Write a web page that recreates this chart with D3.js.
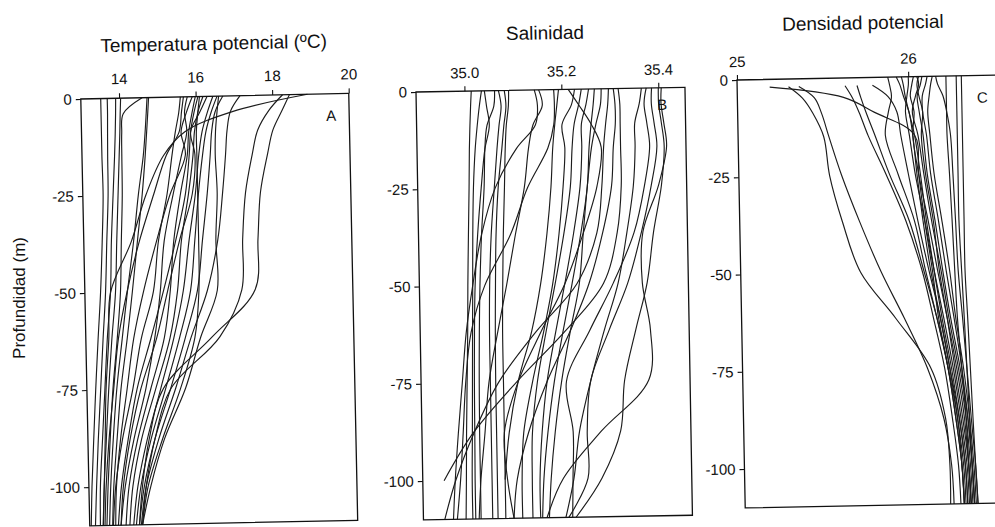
<!DOCTYPE html>
<html><head><meta charset="utf-8">
<script src="https://cdn.jsdelivr.net/npm/d3@7"></script>
<style>
html,body{margin:0;padding:0;background:#fff;}
svg{display:block;font-family:Arial,"Liberation Sans",sans-serif;}
</style></head><body>
<svg id="chart" width="995" height="527"></svg>
<script>
// Depth levels (m) at which each profile is sampled
const depthLevels = [0,-4,-9,-15,-25,-37,-50,-62,-75,-88,-100,-110];
const depthLevelsDensity = [0,-2,-5,-9,-15,-25,-37,-50,-62,-75,-88,-100,-110];
const depthTicks = [0,-25,-50,-75,-100];
const temperatureTicks = [14,16,18,20];
const salinityTicks = [35.0,35.2,35.4];
const densityTicks = [25,26];

// Potential temperature (ºC) per station
const temperatureProfiles = [
  [13.52,13.52,13.52,13.52,13.53,13.48,13.41,13.32,13.23,13.15,13.08,13.04],
  [13.69,13.69,13.68,13.67,13.66,13.60,13.54,13.45,13.36,13.27,13.20,13.15],
  [13.91,13.90,13.88,13.85,13.79,13.72,13.67,13.56,13.47,13.38,13.30,13.28],
  [14.04,14.02,14.00,13.97,13.92,13.86,13.80,13.68,13.57,13.48,13.40,13.36],
  [14.60,14.10,14.05,14.04,14.03,13.98,13.93,13.82,13.68,13.58,13.50,13.45],
  [14.73,14.70,14.66,14.60,14.45,14.30,14.11,13.95,13.78,13.66,13.57,13.52],
  [14.77,14.74,14.70,14.65,14.55,14.40,14.24,14.08,13.89,13.76,13.65,13.60],
  [18.92,16.97,15.70,15.13,14.65,14.24,13.67,13.60,13.50,13.45,13.40,13.35],
  [15.60,15.55,15.45,15.35,15.20,14.95,14.79,14.45,14.20,13.90,13.70,13.62],
  [15.68,15.62,15.55,15.20,14.85,14.45,14.10,13.85,13.70,13.55,13.45,13.40],
  [15.78,15.70,15.75,15.60,15.36,15.10,14.97,14.80,14.54,14.20,13.95,13.82],
  [15.91,15.75,15.60,15.70,15.28,14.90,14.53,14.25,14.05,13.85,13.72,13.68],
  [15.99,15.90,15.80,15.75,15.55,15.35,15.23,15.05,14.67,14.30,14.05,13.95],
  [16.06,15.95,15.85,15.80,15.68,15.40,15.05,14.70,14.31,14.05,13.85,13.75],
  [16.19,16.05,15.95,15.90,15.76,15.55,15.42,15.20,14.80,14.40,14.15,14.05],
  [16.30,16.10,15.85,15.95,15.86,15.50,15.16,14.85,14.41,14.10,13.90,13.82],
  [16.45,16.30,16.15,16.05,15.94,15.75,15.57,15.30,14.93,14.55,14.28,14.15],
  [16.56,16.40,16.25,16.15,16.02,15.90,15.76,15.45,15.06,14.65,14.36,14.22],
  [16.71,16.50,16.40,16.35,16.25,16.10,15.94,15.60,15.19,14.75,14.45,14.30],
  [16.10,16.05,16.00,16.00,16.00,16.00,15.98,15.85,15.45,14.95,14.55,14.38],
  [17.16,16.90,16.80,16.75,16.65,16.50,16.20,15.75,15.32,14.85,14.50,14.35],
  [16.60,16.55,16.50,16.48,16.51,16.45,16.46,16.00,15.58,15.00,14.62,14.38],
  [18.27,17.90,17.60,17.45,17.25,17.15,17.10,16.50,15.20,14.75,14.50,14.38],
  [18.45,18.25,18.00,17.85,17.64,17.55,17.45,16.30,15.00,14.60,14.40,14.30]
];

// Salinity per station (null below the deepest sample)
const salinityProfiles = [
  [35.014,35.012,35.010,35.008,35.006,35.003,35.000,34.998,34.995,34.992,34.990,34.988],
  [35.035,35.030,35.025,35.020,35.015,35.012,35.010,35.008,35.006,35.004,35.002,35.002],
  [35.041,35.045,35.050,35.040,35.031,35.022,35.015,35.012,35.010,35.009,35.008,35.008],
  [35.062,35.060,35.045,35.040,35.037,35.030,35.025,35.022,35.020,35.019,35.019,35.019],
  [35.070,35.075,35.070,35.065,35.058,35.050,35.045,35.043,35.043,35.043,35.043,35.043],
  [35.082,35.085,35.080,35.075,35.066,35.060,35.057,35.055,35.054,35.054,35.054,35.054],
  [35.091,35.090,35.085,35.082,35.079,35.075,35.072,35.070,35.070,35.070,35.070,35.070],
  [35.144,35.150,35.145,35.105,35.060,35.030,35.010,34.995,34.985,34.975,34.967,34.962],
  [35.153,35.160,35.140,35.130,35.120,35.100,35.080,35.060,35.040,35.030,35.020,35.015],
  [35.184,35.185,35.183,35.170,35.127,35.090,35.035,35.005,34.992,34.985,34.978,34.970],
  [35.194,35.190,35.185,35.180,35.175,35.165,35.150,35.130,35.100,35.080,35.070,null],
  [35.214,35.235,35.260,35.280,35.270,35.240,35.200,35.150,35.100,35.070,35.075,35.087],
  [35.227,35.220,35.200,35.205,35.200,35.190,35.175,35.155,35.130,35.110,35.105,35.105],
  [35.241,35.235,35.225,35.220,35.215,35.200,35.180,35.160,35.140,35.128,35.126,35.126],
  [35.256,35.250,35.240,35.240,35.235,35.220,35.200,35.180,35.160,35.148,35.142,35.142],
  [35.268,35.265,35.260,35.255,35.250,35.235,35.215,35.195,35.175,35.160,35.150,35.146],
  [35.297,35.295,35.290,35.285,35.280,35.268,35.225,35.140,35.060,35.007,34.968,34.944],
  [35.317,35.320,35.320,35.320,35.320,35.310,35.280,35.200,35.097,35.005,34.944,null],
  [35.282,35.280,35.270,35.260,35.250,35.240,35.230,35.210,35.190,35.175,35.165,35.160],
  [35.307,35.310,35.310,35.305,35.300,35.280,35.250,35.210,35.160,35.120,35.095,35.087],
  [35.365,35.360,35.350,35.350,35.345,35.330,35.310,35.280,35.250,35.225,35.212,35.194],
  [35.375,35.370,35.375,35.380,35.368,35.345,35.300,35.250,35.200,35.212,35.210,35.208],
  [35.386,35.385,35.390,35.395,35.382,35.360,35.330,35.290,35.250,35.241,35.241,35.200],
  [35.406,35.405,35.410,35.415,35.397,35.363,35.360,35.375,35.370,35.270,35.190,35.155],
  [35.400,35.400,35.405,35.410,35.403,35.385,35.370,35.345,35.320,35.310,35.270,35.215]
];

// Potential density per station (null where the cast starts below the surface)
const densityProfiles = [
  [null,25.19,25.62,25.80,26.03,26.05,26.08,26.12,26.15,26.20,26.24,26.27,26.28],
  [null,25.30,25.38,25.44,25.50,25.53,25.60,25.70,25.90,26.10,26.18,26.20,26.20],
  [null,25.36,25.45,25.49,25.53,25.60,25.70,25.82,25.95,26.08,26.17,26.21,26.22],
  [null,25.63,25.67,25.71,25.76,25.86,25.97,26.06,26.12,26.18,26.22,26.25,26.26],
  [null,25.70,25.72,25.75,25.80,25.88,25.99,26.07,26.14,26.20,26.24,26.27,26.28],
  [null,25.79,25.88,25.93,25.95,25.99,26.04,26.10,26.16,26.21,26.25,26.28,26.29],
  [25.88,25.89,25.90,25.88,25.86,25.93,26.02,26.08,26.14,26.20,26.25,26.27,26.28],
  [25.93,25.95,25.97,26.00,26.02,26.04,26.07,26.11,26.16,26.21,26.26,26.29,26.30],
  [25.96,25.97,25.98,26.00,26.03,26.06,26.09,26.13,26.17,26.22,26.26,26.29,26.30],
  [26.00,26.00,25.99,25.98,26.00,26.03,26.08,26.13,26.18,26.23,26.27,26.30,26.31],
  [26.03,26.02,26.01,26.03,26.02,26.05,26.10,26.15,26.20,26.25,26.29,26.31,26.32],
  [26.05,26.06,26.04,26.02,26.05,26.08,26.12,26.17,26.21,26.26,26.30,26.32,26.33],
  [26.06,26.05,26.06,26.08,26.07,26.09,26.13,26.16,26.20,26.24,26.28,26.31,26.32],
  [26.08,26.07,26.05,26.06,26.08,26.10,26.14,26.18,26.22,26.27,26.31,26.33,26.34],
  [26.11,26.10,26.08,26.08,26.10,26.12,26.16,26.20,26.24,26.28,26.31,26.33,26.34],
  [26.14,26.13,26.12,26.11,26.12,26.14,26.18,26.22,26.25,26.29,26.32,26.34,26.35],
  [26.16,26.17,26.20,26.22,26.24,26.25,26.26,26.27,26.29,26.31,26.33,26.35,26.36],
  [26.22,26.22,26.22,26.22,26.22,26.23,26.24,26.25,26.26,26.28,26.30,26.31,26.32],
  [26.28,26.28,26.28,26.28,26.28,26.28,26.28,26.29,26.30,26.31,26.32,26.33,26.34],
  [26.31,26.31,26.31,26.31,26.31,26.31,26.31,26.31,26.32,26.33,26.34,26.35,26.36]
];

const plainNumber = d => String(d);

const panels = [
  {letter:"A", title:"Temperatura potencial (ºC)", profiles:temperatureProfiles, depths:depthLevels,
   xDomain:[13,20], ticks:temperatureTicks, fmt:plainNumber,
   origin:[80.8,99], angle:-1.2, width:268, height:427, titlePos:[134,-53], letterPos:[250,22], xPad:9},
  {letter:"B", title:"Salinidad", profiles:salinityProfiles, depths:depthLevels,
   xDomain:[34.9,35.455], ticks:salinityTicks, fmt:d3.format(".1f"),
   origin:[416,92], angle:-1.0, width:269, height:428, titlePos:[130,-57], letterPos:[246,17], xPad:8},
  {letter:"C", title:"Densidad potencial", profiles:densityProfiles, depths:depthLevelsDensity,
   xDomain:[25,26.6], ticks:densityTicks, fmt:plainNumber,
   origin:[737,80], angle:-1.1, width:274, height:428, titlePos:[127,-55], letterPos:[245,22], xPad:8}
];

const svg = d3.select("#chart");
const ink = "#1c1c1c";

panels.forEach(p => {
  const g = svg.append("g")
    .attr("transform", `translate(${p.origin[0]},${p.origin[1]}) rotate(${p.angle})`);
  const x = d3.scaleLinear().domain(p.xDomain).range([0, p.width]);
  const y = d3.scaleLinear().domain([-110, 0]).range([p.height, 0]);

  const line = d3.line()
    .x(d => x(d[0]))
    .y(d => y(d[1]))
    .curve(d3.curveCatmullRom.alpha(0.5));

  g.append("g").selectAll("path")
    .data(p.profiles)
    .join("path")
    .attr("d", vals => line(vals.map((v, i) => [v, p.depths[i]]).filter(d => d[0] != null)))
    .attr("fill", "none")
    .attr("stroke", ink)
    .attr("stroke-width", 1.15);

  g.append("rect")
    .attr("x", 0).attr("y", 0)
    .attr("width", p.width).attr("height", p.height)
    .attr("fill", "none").attr("stroke", "#111").attr("stroke-width", 1.3);

  const xAxis = g.append("g")
    .call(d3.axisTop(x).tickValues(p.ticks).tickFormat(p.fmt)
      .tickSize(5).tickSizeOuter(0).tickPadding(p.xPad));
  const yAxis = g.append("g")
    .call(d3.axisLeft(y).tickValues(depthTicks).tickFormat(plainNumber)
      .tickSize(5).tickSizeOuter(0).tickPadding(4));
  [xAxis, yAxis].forEach(a => {
    a.select(".domain").remove();
    a.selectAll("line").attr("stroke", "#111").attr("stroke-width", 1.1);
    a.selectAll("text").attr("fill", "#111").style("font-size", "15px")
      .style("font-family", "Arial, 'Liberation Sans', sans-serif");
  });

  g.append("text")
    .attr("x", p.titlePos[0]).attr("y", p.titlePos[1])
    .attr("dy", "0.35em").attr("text-anchor", "middle")
    .attr("fill", "#111").style("font-size", "19px")
    .text(p.title);

  g.append("text")
    .attr("x", p.letterPos[0]).attr("y", p.letterPos[1])
    .attr("dy", "0.35em").attr("text-anchor", "middle")
    .attr("fill", "#111").style("font-size", "15px")
    .text(p.letter);
});

svg.append("text")
  .attr("transform", "translate(19,298) rotate(-90)")
  .attr("text-anchor", "middle").attr("dy", "0.35em")
  .attr("fill", "#111").style("font-size", "17px")
  .text("Profundidad (m)");
</script>
</body></html>
